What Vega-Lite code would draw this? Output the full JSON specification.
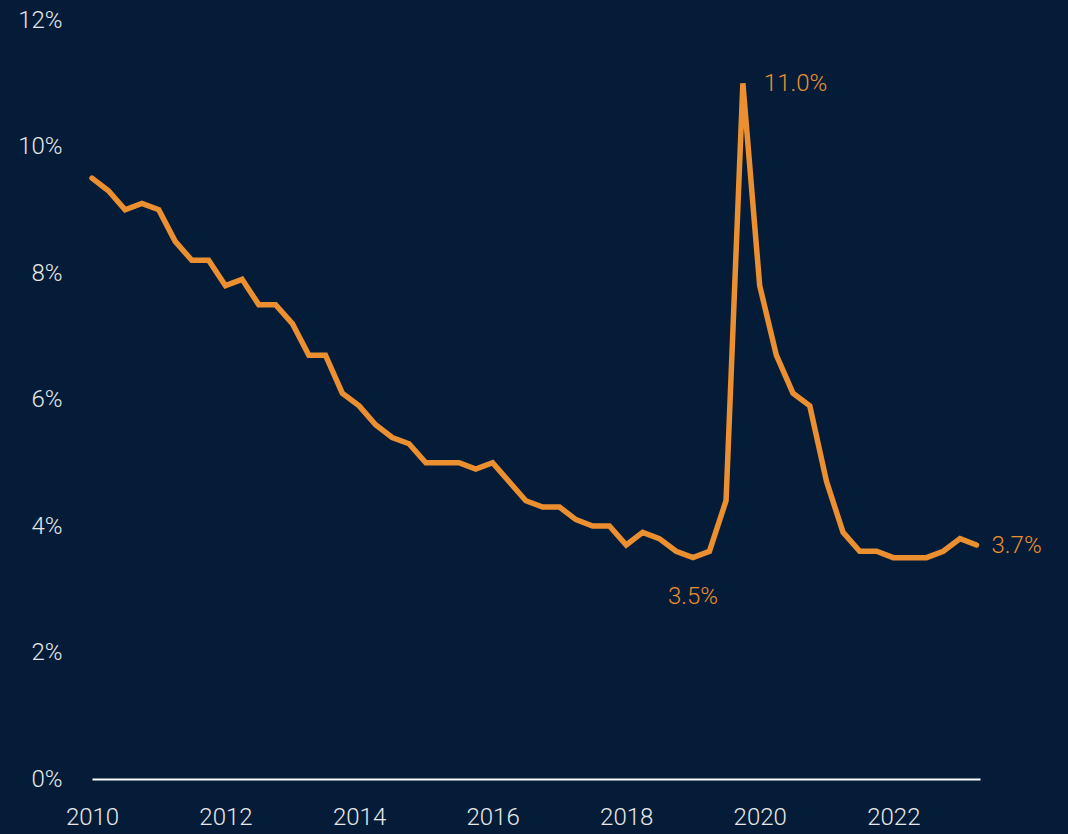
{
  "$schema": "https://vega.github.io/schema/vega-lite/v6.json",
  "width": 888,
  "height": 759,
  "autosize": {"type": "none"},
  "padding": {"left": 92, "top": 20, "right": 88, "bottom": 55},
  "background": "#041c38",
  "config": {
    "view": {"stroke": null},
    "font": "Roboto",
    "axis": {"labelFont": "Roboto", "labelFontWeight": 300, "labelFontSize": 24, "labelColor": "#e8e8e8", "grid": false, "ticks": false}
  },
  "data": {
    "values": [
      {"date": "2010-01-01", "rate": 9.5},
      {"date": "2010-04-01", "rate": 9.3},
      {"date": "2010-07-01", "rate": 9.0},
      {"date": "2010-10-01", "rate": 9.1},
      {"date": "2011-01-01", "rate": 9.0},
      {"date": "2011-04-01", "rate": 8.5},
      {"date": "2011-07-01", "rate": 8.2},
      {"date": "2011-10-01", "rate": 8.2},
      {"date": "2012-01-01", "rate": 7.8},
      {"date": "2012-04-01", "rate": 7.9},
      {"date": "2012-07-01", "rate": 7.5},
      {"date": "2012-10-01", "rate": 7.5},
      {"date": "2013-01-01", "rate": 7.2},
      {"date": "2013-04-01", "rate": 6.7},
      {"date": "2013-07-01", "rate": 6.7},
      {"date": "2013-10-01", "rate": 6.1},
      {"date": "2014-01-01", "rate": 5.9},
      {"date": "2014-04-01", "rate": 5.6},
      {"date": "2014-07-01", "rate": 5.4},
      {"date": "2014-10-01", "rate": 5.3},
      {"date": "2015-01-01", "rate": 5.0},
      {"date": "2015-04-01", "rate": 5.0},
      {"date": "2015-07-01", "rate": 5.0},
      {"date": "2015-10-01", "rate": 4.9},
      {"date": "2016-01-01", "rate": 5.0},
      {"date": "2016-04-01", "rate": 4.7},
      {"date": "2016-07-01", "rate": 4.4},
      {"date": "2016-10-01", "rate": 4.3},
      {"date": "2017-01-01", "rate": 4.3},
      {"date": "2017-04-01", "rate": 4.1},
      {"date": "2017-07-01", "rate": 4.0},
      {"date": "2017-10-01", "rate": 4.0},
      {"date": "2018-01-01", "rate": 3.7},
      {"date": "2018-04-01", "rate": 3.9},
      {"date": "2018-07-01", "rate": 3.8},
      {"date": "2018-10-01", "rate": 3.6},
      {"date": "2019-01-01", "rate": 3.5, "note": "low"},
      {"date": "2019-04-01", "rate": 3.6},
      {"date": "2019-07-01", "rate": 4.4},
      {"date": "2019-10-01", "rate": 11.0, "note": "peak"},
      {"date": "2020-01-01", "rate": 7.8},
      {"date": "2020-04-01", "rate": 6.7},
      {"date": "2020-07-01", "rate": 6.1},
      {"date": "2020-10-01", "rate": 5.9},
      {"date": "2021-01-01", "rate": 4.7},
      {"date": "2021-04-01", "rate": 3.9},
      {"date": "2021-07-01", "rate": 3.6},
      {"date": "2021-10-01", "rate": 3.6},
      {"date": "2022-01-01", "rate": 3.5},
      {"date": "2022-04-01", "rate": 3.5},
      {"date": "2022-07-01", "rate": 3.5},
      {"date": "2022-10-01", "rate": 3.6},
      {"date": "2023-01-01", "rate": 3.8},
      {"date": "2023-04-01", "rate": 3.7, "note": "last"}
    ]
  },
  "encoding": {
    "x": {
      "field": "date",
      "type": "temporal",
      "scale": {"domain": ["2010-01-01", "2023-04-20"]},
      "axis": {
        "title": null,
        "values": ["2010-01-01", "2012-01-01", "2014-01-01", "2016-01-01", "2018-01-01", "2020-01-01", "2022-01-01"],
        "format": "%Y",
        "domainColor": "#ffffff",
        "domainWidth": 2,
        "labelPadding": 26,
        "labelFlush": false
      }
    },
    "y": {
      "field": "rate",
      "type": "quantitative",
      "scale": {"domain": [0, 12], "nice": false},
      "axis": {
        "title": null,
        "domain": false,
        "values": [0, 2, 4, 6, 8, 10, 12],
        "labelExpr": "datum.value + '%'",
        "labelPadding": 30
      }
    }
  },
  "layer": [
    {
      "mark": {"type": "line", "color": "#eb8f30", "strokeWidth": 5.5, "strokeCap": "round"}
    },
    {
      "transform": [{"filter": "datum.note == 'peak'"}],
      "mark": {"type": "text", "color": "#eb8f30", "font": "Roboto", "fontWeight": 300, "fontSize": 24, "align": "left", "baseline": "middle", "dx": 21, "dy": 1},
      "encoding": {"text": {"value": "11.0%"}}
    },
    {
      "transform": [{"filter": "datum.note == 'low'"}],
      "mark": {"type": "text", "color": "#eb8f30", "font": "Roboto", "fontWeight": 300, "fontSize": 24, "align": "center", "baseline": "middle", "dx": 0, "dy": 39},
      "encoding": {"text": {"value": "3.5%"}}
    },
    {
      "transform": [{"filter": "datum.note == 'last'"}],
      "mark": {"type": "text", "color": "#eb8f30", "font": "Roboto", "fontWeight": 300, "fontSize": 24, "align": "left", "baseline": "middle", "dx": 15, "dy": 1},
      "encoding": {"text": {"value": "3.7%"}}
    }
  ]
}
